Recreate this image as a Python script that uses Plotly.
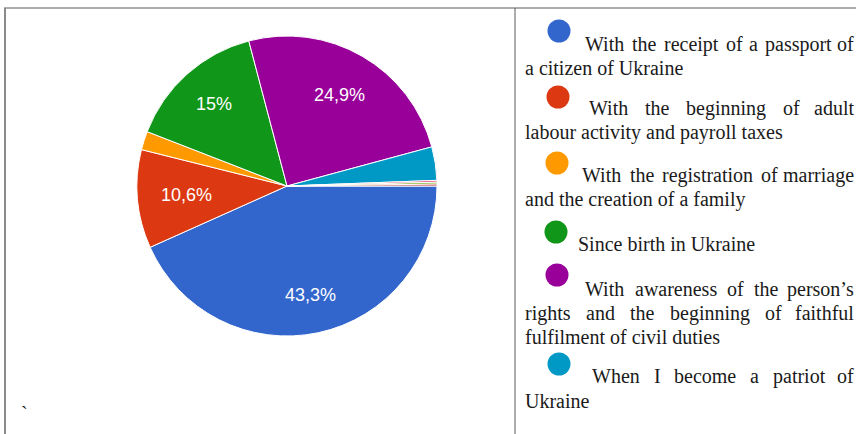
import math
import plotly.graph_objects as go

# ---------------- data ----------------
categories = [
    "With the receipt of a passport of a citizen of Ukraine",
    "With the beginning of adult labour activity and payroll taxes",
    "With the registration of marriage and the creation of a family",
    "Since birth in Ukraine",
    "With awareness of the person’s rights and the beginning of faithful fulfilment of civil duties",
    "When I become a patriot of Ukraine",
    "Other 1",
    "Other 2",
    "Other 3",
]
values = [43.3, 10.6, 2.0, 15.0, 24.9, 3.6, 0.2, 0.2, 0.2]
slice_labels = ["43,3%", "10,6%", "", "15%", "24,9%", "", "", "", ""]
colors = ["#3366cc", "#dc3912", "#ff9900", "#109618", "#990099",
          "#0099c6", "#dd4477", "#66aa00", "#b82e2e"]

# ---------------- layout helpers ----------------
W, H = 856, 434
SERIF = "Liberation Serif, Times New Roman, serif"
FS = 20

# legend layout: words per line, line starts, justify flag, line y centres, marker centre
legend_layout = [
    dict(words=[7, 4], x0=[585, 525], just=[True, False], y=[44, 68], mk=(559, 31)),
    dict(words=[5, 5], x0=[589, 525], just=[True, False], y=[108, 132], mk=(558, 97)),
    dict(words=[5, 6], x0=[582, 525], just=[True, False], y=[175, 199], mk=(557, 163)),
    dict(words=[4], x0=[578], just=[False], y=[244], mk=(556, 232)),
    dict(words=[5, 6, 4], x0=[585, 525, 525], just=[True, True, False], y=[289, 313, 337], mk=(557, 275)),
    dict(words=[6, 1], x0=[592, 525], just=[True, False], y=[376, 401], mk=(559, 364)),
]
RIGHT = 856

# Times metrics (1/1000 em)
TW = dict(a=444, b=500, c=444, d=500, e=444, f=333, g=500, h=500, i=278, j=278, k=500,
          l=278, m=778, n=500, o=500, p=500, q=500, r=333, s=389, t=278, u=500, v=500,
          w=722, x=500, y=500, z=444, I=333, U=722, W=944, S=556)
TW["’"] = 333


def word_w(wd):
    return sum(TW.get(ch, 500) for ch in wd) * FS / 1000.0


def serif_ann(x, y, text, anchor):
    return dict(x=x, y=y, text=text, xanchor=anchor, yanchor="middle", showarrow=False,
                xref="x", yref="y", font=dict(family=SERIF, size=FS, color="#1a1a1a"))


annotations = []
for idx, item in enumerate(legend_layout):
    words = categories[idx].split(" ")
    pos = 0
    for li, n in enumerate(item["words"]):
        line_words = words[pos:pos + n]
        pos += n
        x0 = item["x0"][li]
        y = item["y"][li]
        if item["just"][li] and len(line_words) > 1:
            widths = [word_w(w) for w in line_words]
            gap = (RIGHT - x0 - sum(widths)) / (len(line_words) - 1)
            x = x0
            for k, (wd, ww) in enumerate(zip(line_words, widths)):
                if k == len(line_words) - 1:
                    annotations.append(serif_ann(RIGHT, y, wd, "right"))
                else:
                    annotations.append(serif_ann(x - 2, y, wd, "left"))
                x += ww + gap
        else:
            annotations.append(serif_ann(x0 - 2, y, " ".join(line_words), "left"))

annotations.append(serif_ann(19, 414, "`", "left"))

# pie geometry (pixels)
cx, cy, R = 287, 186, 150
label_r = [0.74, 0.67, 0.7, 0.73, 0.70, 0.7, 0.7, 0.7, 0.7]  # label radius fraction

# percentage labels placed at slice mid-angles computed from the values
total = sum(values)
acc = 0.0
for v, lab, rf in zip(values, slice_labels, label_r):
    mid = (acc + v / 2) / total * 2 * math.pi  # clockwise from 3 o'clock
    acc += v
    if not lab:
        continue
    annotations.append(dict(
        x=cx + rf * R * math.cos(mid), y=cy + rf * R * math.sin(mid),
        text=lab, xanchor="center", yanchor="middle", showarrow=False,
        xref="x", yref="y",
        font=dict(family="Liberation Sans, Arial, sans-serif", size=18, color="white")))

fig = go.Figure()
fig.add_trace(go.Pie(
    labels=categories,
    values=values,
    textinfo="none",
    marker=dict(colors=colors, line=dict(color="white", width=1)),
    sort=False,
    direction="clockwise",
    rotation=90,
    showlegend=False,
    hoverinfo="label+percent",
    domain=dict(x=[(cx - R) / W, (cx + R) / W], y=[(H - cy - R) / H, (H - cy + R) / H]),
))

fig.add_trace(go.Scatter(
    x=[it["mk"][0] for it in legend_layout],
    y=[it["mk"][1] for it in legend_layout],
    mode="markers",
    marker=dict(size=23, color=colors[:6], line=dict(width=0)),
    showlegend=False,
    hoverinfo="skip",
))

line_col = "#5a5a5a"
shapes = [
    dict(type="line", xref="x", yref="y", x0=4, x1=W, y0=8, y1=8, line=dict(color=line_col, width=1)),
    dict(type="line", xref="x", yref="y", x0=5, x1=5, y0=8, y1=H, line=dict(color="#8a8a8a", width=2)),
    dict(type="line", xref="x", yref="y", x0=515, x1=515, y0=8, y1=H, line=dict(color=line_col, width=1)),
]

fig.update_layout(
    width=W, height=H,
    margin=dict(l=0, r=0, t=0, b=0),
    paper_bgcolor="white", plot_bgcolor="rgba(0,0,0,0)",
    xaxis=dict(range=[0, W], visible=False, fixedrange=True, domain=[0, 1]),
    yaxis=dict(range=[H, 0], visible=False, fixedrange=True, domain=[0, 1]),
    annotations=annotations,
    shapes=shapes,
    showlegend=False,
)

fig.write_html("out.html",
               config={"displayModeBar": False},
               post_script="document.body.style.margin='0';document.body.style.padding='0';"
                           "document.body.style.overflow='hidden';")
